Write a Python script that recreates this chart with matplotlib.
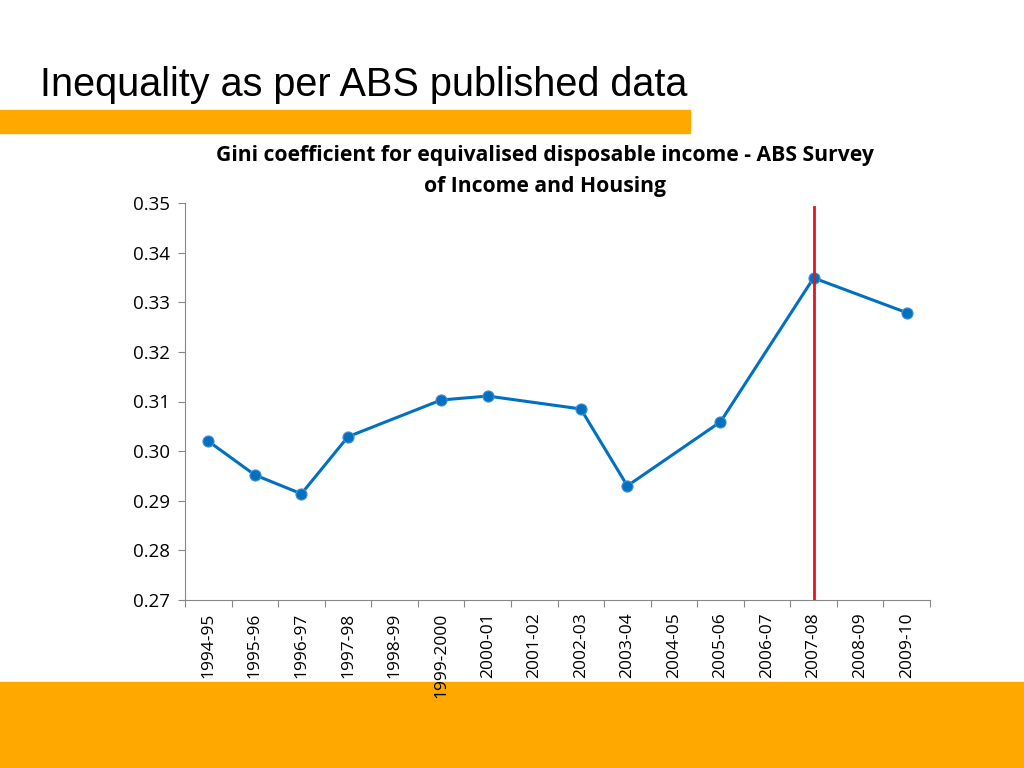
import matplotlib.pyplot as plt
from matplotlib.patches import Rectangle
import numpy as np

# data (missing years = no survey)
years = ['1994-95', '1995-96', '1996-97', '1997-98', '1998-99', '1999-2000',
         '2000-01', '2001-02', '2002-03', '2003-04', '2004-05', '2005-06',
         '2006-07', '2007-08', '2008-09', '2009-10']
gini = [0.302, 0.2952, 0.2914, 0.3029, np.nan, 0.3103, 0.3111, np.nan,
        0.3085, 0.2930, np.nan, 0.3059, np.nan, 0.3349, np.nan, 0.3279]
marker_year = '2007-08'

orange = '#FFA800'
blue = '#0070C0'

fig = plt.figure(figsize=(10.24, 7.68), dpi=100)

# slide decorations
fig.patches.append(Rectangle((0, 1 - 133 / 768), 690 / 1024, 23 / 768,
                             transform=fig.transFigure, color=orange, zorder=0))
fig.patches.append(Rectangle((0, 0), 1, 86 / 768,
                             transform=fig.transFigure, color=orange, zorder=0))
fig.text(40 / 1024, 1 - 96 / 768, 'Inequality as per ABS published data',
         fontsize=28.5, family='Liberation Sans', color='black', va='baseline')
fig.text(545 / 1024, 1 - 145 / 768,
         'Gini coefficient for equivalised disposable income - ABS Survey\nof Income and Housing',
         fontsize=15.2, fontweight='bold', family='Open Sans', ha='center', va='top',
         linespacing=1.6)

ax = fig.add_axes([185 / 1024, 1 - 600 / 768, 745 / 1024, 397 / 768])
ax.set_facecolor('none')
ax.set_zorder(2)

x = np.arange(len(years))
y = np.array(gini)
ok = ~np.isnan(y)
ax.plot(x[ok], y[ok], color=blue, lw=2.2, marker='o', ms=8,
        mec='#4A90D0', mew=0.8, zorder=3)
ax.axvline(years.index(marker_year), ymin=0, ymax=(600 - 207) / 397,
           color='#E8141C', lw=2, zorder=4)

ax.set_xlim(-0.5, len(years) - 0.5)
ax.set_ylim(0.27, 0.35)
yt = np.arange(0.27, 0.3501, 0.01)
ax.set_yticks(yt)
ax.set_yticklabels([f'{v:.2f}' for v in yt])
ax.set_xticks(np.arange(-0.5, len(years)), minor=False)
ax.set_xticklabels([])
ax.set_xticks(x, minor=True)
ax.set_xticklabels(years, minor=True, rotation=90, fontsize=12.5, family='Open Sans')
ax.tick_params(axis='x', which='minor', length=0, pad=9)
ax.tick_params(axis='x', which='major', length=5, color='#888888')
ax.tick_params(axis='y', length=5, color='#888888', labelsize=13.5, pad=6)
for lbl in ax.get_yticklabels():
    lbl.set_family('Open Sans')

for side in ['top', 'right']:
    ax.spines[side].set_visible(False)
ax.spines['left'].set_color('#888888')
ax.spines['bottom'].set_color('#888888')

fig.savefig('out.png', dpi=100)
